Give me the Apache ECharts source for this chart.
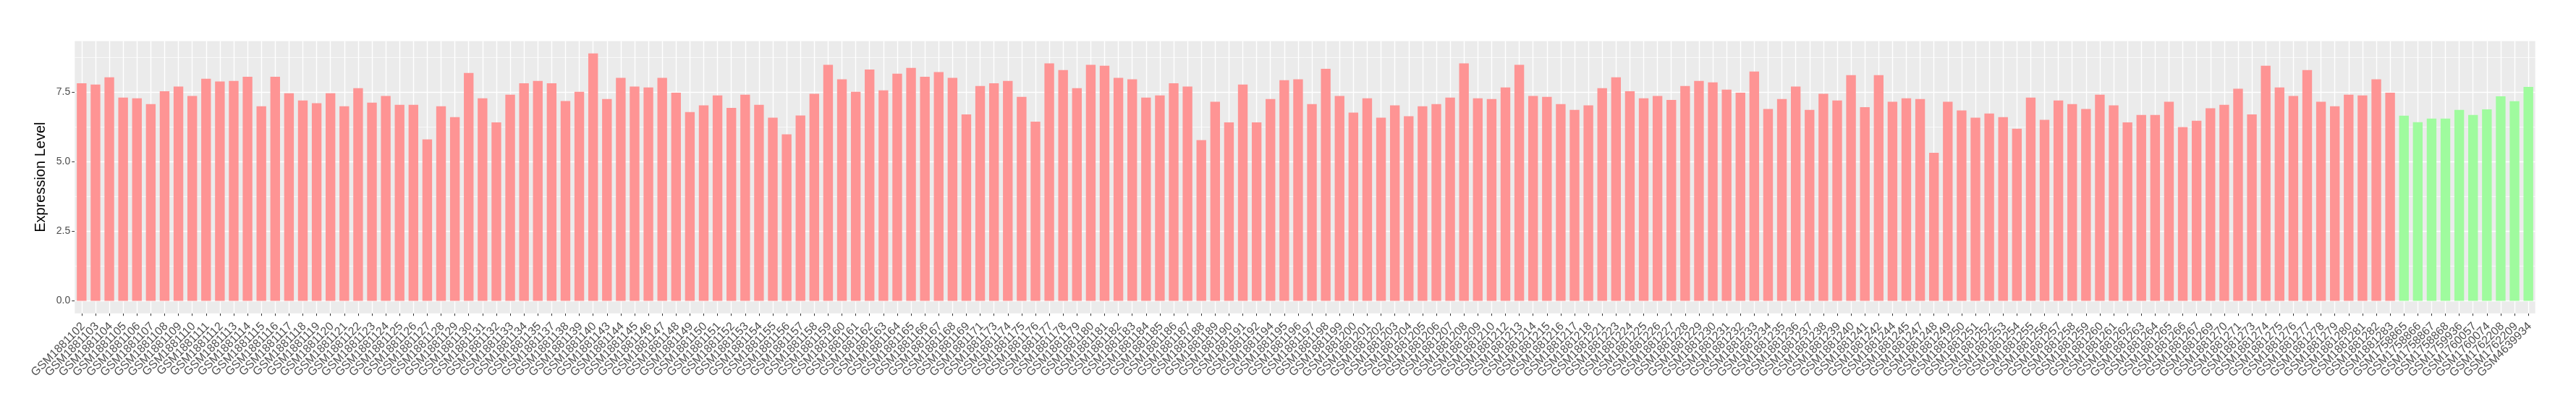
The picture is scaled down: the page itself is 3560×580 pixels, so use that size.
<!DOCTYPE html>
<html>
<head>
<meta charset="utf-8">
<script src="https://cdn.jsdelivr.net/npm/echarts@6/dist/echarts.min.js"></script>
<style>
  html, body { margin: 0; padding: 0; background: #ffffff; }
  #chart { width: 3560px; height: 580px; }
</style>
</head>
<body>
<div id="chart"></div>
<script>
// ---- data ----
const redSamples = [
  'GSM1881102','GSM1881103','GSM1881104','GSM1881105','GSM1881106','GSM1881107','GSM1881108','GSM1881109','GSM1881110','GSM1881111',
  'GSM1881112','GSM1881113','GSM1881114','GSM1881115','GSM1881116','GSM1881117','GSM1881118','GSM1881119','GSM1881120','GSM1881121',
  'GSM1881122','GSM1881123','GSM1881124','GSM1881125','GSM1881126','GSM1881127','GSM1881128','GSM1881129','GSM1881130','GSM1881131',
  'GSM1881132','GSM1881133','GSM1881134','GSM1881135','GSM1881137','GSM1881138','GSM1881139','GSM1881140','GSM1881143','GSM1881144',
  'GSM1881145','GSM1881146','GSM1881147','GSM1881148','GSM1881149','GSM1881150','GSM1881151','GSM1881152','GSM1881153','GSM1881154',
  'GSM1881155','GSM1881156','GSM1881157','GSM1881158','GSM1881159','GSM1881160','GSM1881161','GSM1881162','GSM1881163','GSM1881164',
  'GSM1881165','GSM1881166','GSM1881167','GSM1881168','GSM1881169','GSM1881171','GSM1881173','GSM1881174','GSM1881175','GSM1881176',
  'GSM1881177','GSM1881178','GSM1881179','GSM1881180','GSM1881181','GSM1881182','GSM1881183','GSM1881184','GSM1881185','GSM1881186',
  'GSM1881187','GSM1881188','GSM1881189','GSM1881190','GSM1881191','GSM1881192','GSM1881194','GSM1881195','GSM1881196','GSM1881197',
  'GSM1881198','GSM1881199','GSM1881200','GSM1881201','GSM1881202','GSM1881203','GSM1881204','GSM1881205','GSM1881206','GSM1881207',
  'GSM1881208','GSM1881209','GSM1881210','GSM1881212','GSM1881213','GSM1881214','GSM1881215','GSM1881216','GSM1881217','GSM1881218',
  'GSM1881221','GSM1881223','GSM1881224','GSM1881225','GSM1881226','GSM1881227','GSM1881228','GSM1881229','GSM1881230','GSM1881231',
  'GSM1881232','GSM1881233','GSM1881234','GSM1881235','GSM1881236','GSM1881237','GSM1881238','GSM1881239','GSM1881240','GSM1881241',
  'GSM1881242','GSM1881244','GSM1881245','GSM1881247','GSM1881248','GSM1881249','GSM1881250','GSM1881251','GSM1881252','GSM1881253',
  'GSM1881254','GSM1881255','GSM1881256','GSM1881257','GSM1881258','GSM1881259','GSM1881260','GSM1881261','GSM1881262','GSM1881263',
  'GSM1881264','GSM1881265','GSM1881266','GSM1881267','GSM1881269','GSM1881270','GSM1881271','GSM1881273','GSM1881274','GSM1881275',
  'GSM1881276','GSM1881277','GSM1881278','GSM1881279','GSM1881280','GSM1881281','GSM1881282','GSM1881283'
];
const redValues = [
  7.83,7.78,8.04,7.31,7.29,7.08,7.54,7.71,7.37,7.99,
  7.89,7.91,8.06,7.00,8.06,7.47,7.21,7.11,7.47,7.00,
  7.65,7.13,7.37,7.05,7.05,5.81,7.00,6.61,8.20,7.29,
  6.42,7.42,7.83,7.91,7.83,7.19,7.52,8.90,7.26,8.02,
  7.71,7.68,8.02,7.49,6.79,7.03,7.39,6.94,7.42,7.05,
  6.59,5.99,6.67,7.45,8.49,7.97,7.52,8.32,7.57,8.17,
  8.38,8.06,8.23,8.02,6.71,7.73,7.83,7.91,7.34,6.45,
  8.54,8.30,7.65,8.49,8.46,8.02,7.97,7.31,7.39,7.83,
  7.71,5.78,7.16,6.42,7.78,6.42,7.26,7.94,7.97,7.08,
  8.35,7.37,6.77,7.29,6.59,7.03,6.64,7.00,7.08,7.31,
  8.54,7.29,7.26,7.68,8.49,7.37,7.34,7.08,6.87,7.03,
  7.65,8.04,7.54,7.29,7.37,7.23,7.73,7.91,7.86,7.60,
  7.49,8.25,6.90,7.26,7.71,6.87,7.45,7.21,8.12,6.97,
  8.12,7.16,7.29,7.26,5.33,7.16,6.85,6.59,6.74,6.61,
  6.19,7.31,6.51,7.21,7.08,6.90,7.42,7.03,6.42,6.69,
  6.69,7.16,6.25,6.48,6.93,7.05,7.63,6.71,8.46,7.68,
  7.37,8.30,7.16,7.00,7.42,7.39,7.97,7.49
];
const greenSamples = [
  'GSM1758865','GSM1758866','GSM1758867','GSM1758868','GSM1759936',
  'GSM1760057','GSM1760074','GSM1762208','GSM1762209','GSM4639934'
];
const greenValues = [6.66,6.43,6.56,6.56,6.87,6.69,6.89,7.36,7.18,7.70];
const yTicks = [0, 2.5, 5, 7.5];
const yMinorTicks = [1.25, 3.75, 6.25, 8.75];

// ---- build ----
const categories = redSamples.concat(greenSamples);
const redSeries = redValues.concat(greenSamples.map(() => null));
const greenSeries = redSamples.map(() => null).concat(greenValues);

const gridLines = []
  .concat(yMinorTicks.map(v => ({ yAxis: v, lineStyle: { width: 0.7 } })))
  .concat(yTicks.map(v => ({ yAxis: v, lineStyle: { width: 1.4 } })))
  .concat(categories.map(c => ({ xAxis: c, lineStyle: { width: 1.4 } })));

const FONT = 'Liberation Sans, Arial, sans-serif';
const chart = echarts.init(document.getElementById('chart'), null, { renderer: 'canvas' });
chart.setOption({
  animation: false,
  backgroundColor: '#ffffff',
  textStyle: { fontFamily: FONT },
  grid: {
    left: 103.3, right: 56.3, top: 56.7, bottom: 147.3,
    show: true, backgroundColor: '#EBEBEB', borderWidth: 0
  },
  xAxis: {
    type: 'category',
    data: categories,
    axisLine: { show: false, onZero: false },
    axisTick: { show: true, alignWithLabel: true, interval: 0, length: 3.5, lineStyle: { color: '#333333', width: 1 } },
    axisLabel: {
      interval: 0, rotate: 45, fontSize: 16, color: '#4D4D4D', margin: 6.3,
      verticalAlign: 'top', align: 'right', lineHeight: 16, padding: [0, 5, 0, 0],
      fontFamily: FONT
    },
    splitLine: { show: false }
  },
  yAxis: {
    type: 'value',
    min: -0.445, max: 9.345,
    name: 'Expression Level',
    nameLocation: 'middle',
    nameGap: 30,
    nameTextStyle: { fontSize: 20, color: '#000000', fontFamily: FONT },
    axisLine: { show: false },
    axisTick: { show: true, customValues: yTicks, length: 4, lineStyle: { color: '#333333', width: 1 } },
    axisLabel: {
      customValues: yTicks, fontSize: 14, color: '#4D4D4D', margin: 6,
      formatter: v => Number(v).toFixed(1)
    },
    splitLine: { show: false }
  },
  series: [
    {
      type: 'line', data: [], z: 1, silent: true,
      markLine: {
        z: 1, silent: true, symbol: ['none', 'none'], label: { show: false },
        lineStyle: { color: '#FFFFFF', type: 'solid', width: 1.4 },
        emphasis: { disabled: true },
        data: gridLines
      }
    },
    {
      name: 'red', type: 'bar', data: redSeries, barWidth: '70%', barGap: '-100%', z: 3,
      itemStyle: { color: '#FE9494' }
    },
    {
      name: 'green', type: 'bar', data: greenSeries, barWidth: '70%', barGap: '-100%', z: 3,
      itemStyle: { color: '#9FFB9E' }
    }
  ]
});
</script>
</body>
</html>
